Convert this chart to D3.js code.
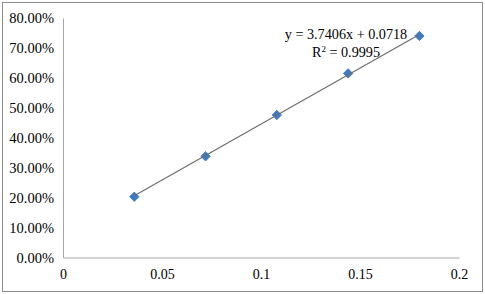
<!DOCTYPE html>
<html>
<head>
<meta charset="utf-8">
<script src="https://cdn.jsdelivr.net/npm/d3@7"></script>
<style>
  body { margin: 0; background: #fff; }
  text { font-family: 'Liberation Serif', 'Times New Roman', serif; fill: #000; }
</style>
</head>
<body>
<div id="chart"></div>
<script>
// data
const xValues = [0.036, 0.072, 0.108, 0.144, 0.18]
const yValues = [0.203, 0.338, 0.476, 0.615, 0.740]
const xTicks = [0, 0.05, 0.1, 0.15, 0.2]
const yTicks = [0, 0.1, 0.2, 0.3, 0.4, 0.5, 0.6, 0.7, 0.8]
const slope = 3.7406
const intercept = 0.0718
const eqLabel = 'y = 3.7406x + 0.0718'
const r2Value = '0.9995'

const width = 485
const height = 294
const m = { t: 18, r: 26, b: 36.5, l: 63 }

const svg = d3.select('#chart').append('svg')
  .attr('width', width).attr('height', height)

// outer frame
svg.append('rect')
  .attr('x', 2.5).attr('y', 2.5)
  .attr('width', width - 5).attr('height', height - 5)
  .attr('fill', '#fff').attr('stroke', '#8c8c8c').attr('stroke-width', 1)

const x = d3.scaleLinear().domain([0, 0.2]).range([m.l, width - m.r])
const y = d3.scaleLinear().domain([0, 0.8]).range([height - m.b, m.t])

// x axis
const xAxis = svg.append('g')
  .attr('transform', 'translate(0,' + y(0) + ')')
  .call(d3.axisBottom(x).tickValues(xTicks).tickSize(0).tickPadding(12)
    .tickFormat(d => d === 0 ? '0' : String(d)))
xAxis.select('.domain').attr('stroke', '#a6a6a6')
xAxis.selectAll('text').style('font-size', '14px')

// y axis
const yAxis = svg.append('g')
  .attr('transform', 'translate(' + x(0) + ',0)')
  .call(d3.axisLeft(y).tickValues(yTicks).tickSize(0).tickPadding(9)
    .tickFormat(d3.format('.2%')))
yAxis.select('.domain').attr('stroke', '#a6a6a6')
yAxis.selectAll('text').style('font-size', '14.5px')

// diamond markers
const pts = xValues.map((v, i) => [v, yValues[i]])
svg.selectAll('.pt').data(pts).enter().append('path')
  .attr('class', 'pt')
  .attr('d', d3.symbol(d3.symbolDiamond2, 56))
  .attr('transform', d => 'translate(' + x(d[0]) + ',' + y(d[1]) + ')')
  .attr('fill', '#3d7cc4').attr('stroke', '#3a72b8').attr('stroke-width', 0.8)

// linear trendline over the data range, drawn over the markers
const x0 = d3.min(xValues)
const x1 = d3.max(xValues)
svg.append('line')
  .attr('x1', x(x0)).attr('y1', y(slope * x0 + intercept))
  .attr('x2', x(x1)).attr('y2', y(slope * x1 + intercept))
  .attr('stroke', '#6e6e6e').attr('stroke-width', 1.2)

// equation label
svg.append('text')
  .attr('x', 346).attr('y', 39)
  .attr('text-anchor', 'middle')
  .style('font-size', '14.2px')
  .text(eqLabel)

const r2 = svg.append('text')
  .attr('x', 346).attr('y', 57)
  .attr('text-anchor', 'middle')
  .style('font-size', '14.2px')
r2.append('tspan').text('R')
r2.append('tspan').attr('dy', -5).style('font-size', '9px').text('2')
r2.append('tspan').attr('dy', 5).text(' = ' + r2Value)
</script>
</body>
</html>
